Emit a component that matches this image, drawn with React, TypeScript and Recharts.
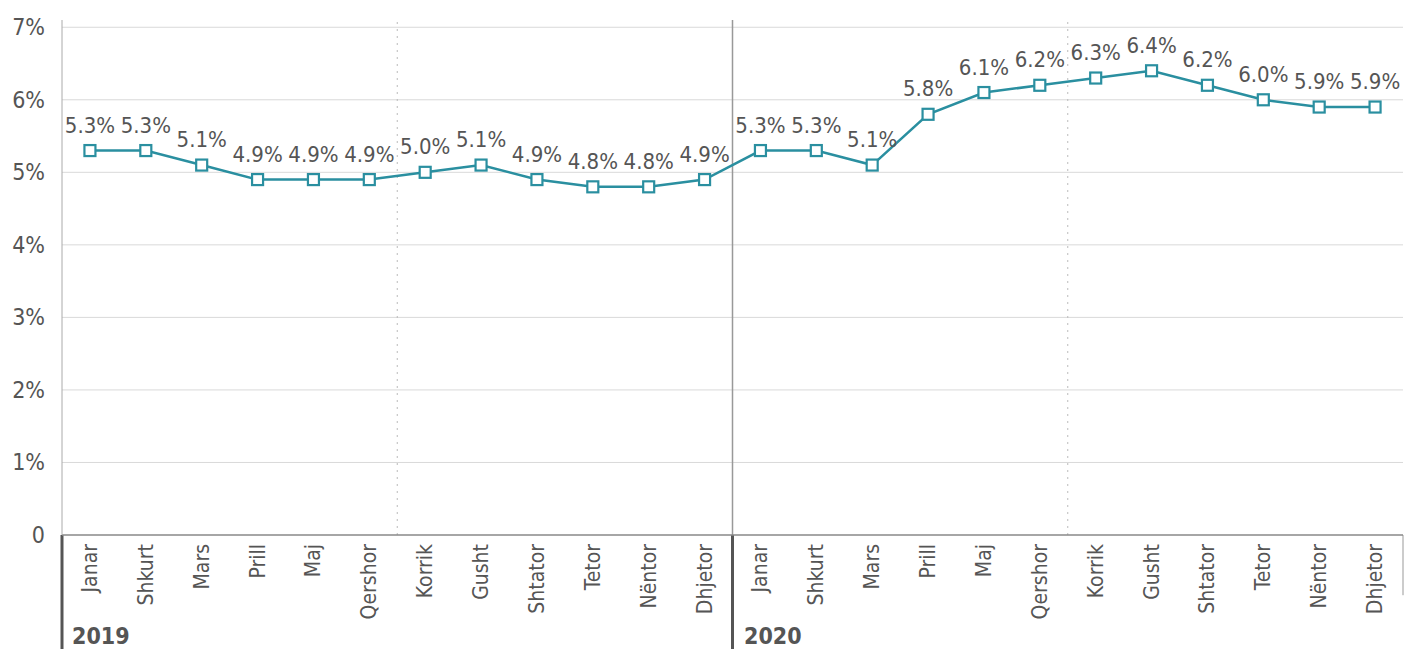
import React from 'react';
import { LineChart, Line, XAxis, YAxis, ReferenceLine, LabelList } from 'recharts';

const months = ['Janar','Shkurt','Mars','Prill','Maj','Qershor','Korrik','Gusht','Shtator','Tetor','Nëntor','Dhjetor'];
const categories = [...months, ...months];
const values = [5.3,5.3,5.1,4.9,4.9,4.9,5.0,5.1,4.9,4.8,4.8,4.9, 5.3,5.3,5.1,5.8,6.1,6.2,6.3,6.4,6.2,6.0,5.9,5.9];
const yTicks = [0,1,2,3,4,5,6,7];
const years = ['2019','2020'];

const data = categories.map((m, i) => ({ i, month: m, value: values[i] }));

const FONT = '"Liberation Sans Narrow", "DejaVu Sans Condensed", "Roboto", sans-serif';
const TEXT = '#555';
const TEAL = '#2a8fa0';

const XTick = (props: any) => {
  const { x, y, payload } = props;
  return (
    <text x={x} y={y} transform={`rotate(-90 ${x} ${y})`} textAnchor="end" dominantBaseline="central"
      fill={TEXT} fontSize={21} fontFamily={FONT}>{categories[payload.value]}</text>
  );
};

const YTick = (props: any) => {
  const { y, payload } = props;
  return (
    <text x={45} y={y} textAnchor="end" dominantBaseline="central" fill={TEXT} fontSize={23} fontFamily={FONT}>
      {payload.value === 0 ? '0' : `${payload.value}%`}
    </text>
  );
};

const Square = (props: any) => {
  const { cx, cy } = props;
  if (cx == null || cy == null) return null;
  return <rect x={cx - 5.5} y={cy - 5.5} width={11} height={11} fill="#fff" stroke={TEAL} strokeWidth={2.2} />;
};

export default function App() {
  return (
    <div style={{ position: 'absolute', left: 0, top: 0, width: 1404, height: 649, background: '#fff' }}>
      <LineChart width={1404} height={649} data={data} margin={{ top: 20, right: 1, left: 0, bottom: 0 }}>
        {yTicks.slice(1).map(t => (
          <ReferenceLine key={t} y={t} stroke="#d9d9d9" strokeWidth={1} />
        ))}
        <XAxis dataKey="i" type="number" domain={[-0.5, 23.5]} ticks={data.map(d => d.i)} interval={0}
          tick={<XTick />} tickLine={false} axisLine={{ stroke: '#888', strokeWidth: 1.5 }} tickSize={0} tickMargin={9} height={114} />
        <YAxis domain={[0, 7.1]} ticks={yTicks} width={62} tick={<YTick />} tickLine={false}
          axisLine={{ stroke: '#aaa', strokeWidth: 1 }} allowDataOverflow />
        <ReferenceLine x={5.5} stroke="#bbb" strokeDasharray="2 5" />
        <ReferenceLine x={17.5} stroke="#bbb" strokeDasharray="2 5" />
        <ReferenceLine x={11.5} stroke="#999" strokeWidth={1.5} />
        <ReferenceLine segment={[{ x: -0.5, y: 0 }, { x: -0.5, y: -1.6 }]} stroke="#555" strokeWidth={3} ifOverflow="visible" />
        <ReferenceLine segment={[{ x: 11.5, y: 0 }, { x: 11.5, y: -1.6 }]} stroke="#555" strokeWidth={3} ifOverflow="visible" />
        <ReferenceLine segment={[{ x: 23.5, y: 0 }, { x: 23.5, y: -0.83 }]} stroke="#999" strokeWidth={1} ifOverflow="visible" />
        <Line dataKey="value" stroke={TEAL} strokeWidth={2.5} dot={<Square />} activeDot={false} isAnimationActive={false}>
          <LabelList dataKey="value" position="top" offset={18} fill={TEXT} fontSize={22} fontFamily={FONT}
            formatter={(v: any) => `${Number(v).toFixed(1)}%`} />
        </Line>
      </LineChart>
      {years.map((yr, k) => (
        <div key={yr} style={{ position: 'absolute', left: k === 0 ? 72 : 744, top: 623, fontFamily: FONT,
          fontWeight: 'bold', fontSize: 23, color: TEXT, lineHeight: '26px' }}>{yr}</div>
      ))}
    </div>
  );
}
